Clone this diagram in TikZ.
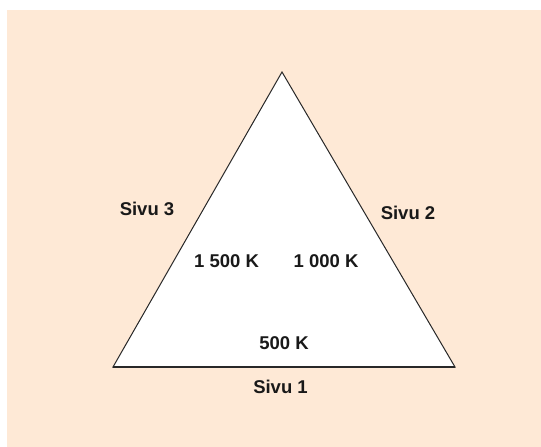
\documentclass[tikz,border=0pt]{standalone}
\usepackage{fontspec}
\setmainfont{Liberation Sans}
\definecolor{peach}{RGB}{254,233,214}
\definecolor{edge}{RGB}{40,40,40}
\tikzset{
  lbl/.style={font=\fontsize{18.5}{21}\selectfont\bfseries, text=black!90, inner sep=0pt},
  tri/.style={draw=edge, line width=1pt, fill=white, line join=miter}
}
\begin{document}
\begin{tikzpicture}[x=1pt,y=-1pt]
\useasboundingbox (0,0) rectangle (541,447);
\fill[peach] (7,10) rectangle (541,447);
\coordinate (A) at (282,72);
\coordinate (B) at (113,367);
\coordinate (C) at (455,367);
\draw[tri] (A) -- (C) -- (B) -- cycle;
\draw[edge, line width=1.4pt] (B) -- (C);
\node[lbl] (s3) at (147,208.5) {Sivu 3};
\node[lbl] (s2) at (408,213) {Sivu 2};
\node[lbl] (t1) at (226.5,261.5) {1 500 K};
\node[lbl] (t2) at (326,261.5) {1 000 K};
\node[lbl] (t3) at (284,343) {500 K};
\node[lbl] (s1) at (280.5,386.5) {Sivu 1};
\end{tikzpicture}
\end{document}
